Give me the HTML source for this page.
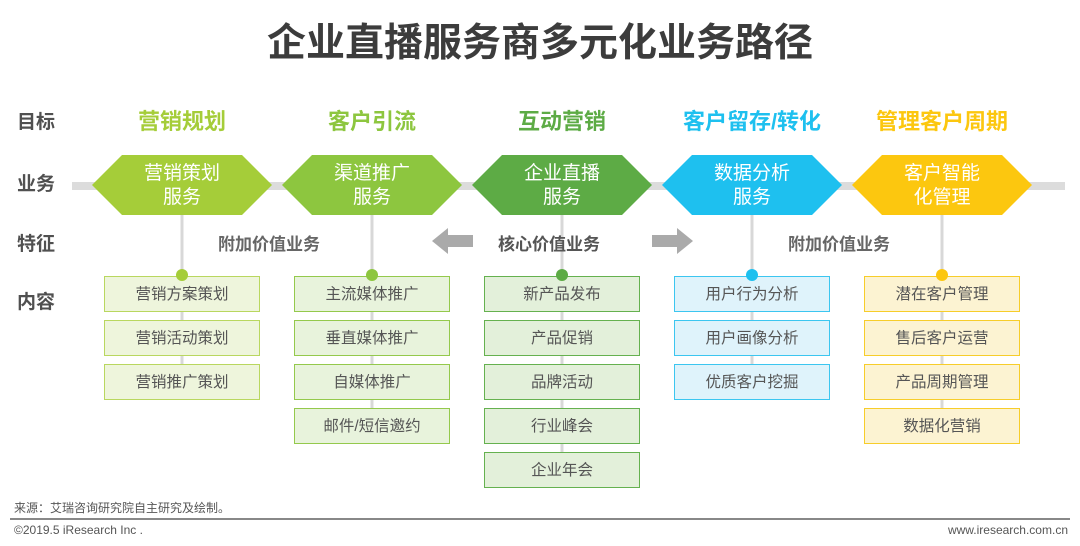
<!DOCTYPE html>
<html><head><meta charset="utf-8"><style>
body{margin:0;width:1080px;height:546px;background:#fff;position:relative;overflow:hidden;font-family:"Liberation Sans","Noto Sans CJK SC",sans-serif}
.a{position:absolute;white-space:nowrap}
.lbl{left:17px;font-size:19px;font-weight:bold;color:#505050}
.goal{font-size:22px;font-weight:bold;width:190px;text-align:center;top:104px}
.hx{font-size:19px;color:#fff;width:180px;text-align:center;line-height:24px;top:162px}
.bx{position:absolute;width:154px;height:34px;line-height:35px;text-align:center;font-size:15.5px;color:#555;border:1.5px solid}
.feat{font-size:17px;font-weight:bold;color:#666;top:230px}
</style></head><body>
<div class="a" style="left:0;width:1080px;text-align:center;top:12px;font-size:39px;font-weight:bold;color:#3c3c3c">企业直播服务商多元化业务路径</div>
<div class="a lbl" style="top:107px">目标</div>
<div class="a lbl" style="top:169px">业务</div>
<div class="a lbl" style="top:229px">特征</div>
<div class="a lbl" style="top:287px">内容</div>
<div class="a goal" style="left:87px;color:#a5cd39">营销规划</div>
<div class="a goal" style="left:277px;color:#8dc63f">客户引流</div>
<div class="a goal" style="left:467px;color:#5dab45">互动营销</div>
<div class="a goal" style="left:657px;color:#1ec0ef">客户留存/转化</div>
<div class="a goal" style="left:847px;color:#fcc70f">管理客户周期</div>
<svg class="a" style="left:0;top:0" width="1080" height="546">
<rect x="72" y="182" width="993" height="8" fill="#dcdcdc"/>
<g stroke="#d8d8d8" stroke-width="3">
<line x1="182" y1="215" x2="182" y2="400"/><line x1="372" y1="215" x2="372" y2="444"/>
<line x1="562" y1="215" x2="562" y2="488"/><line x1="752" y1="215" x2="752" y2="400"/>
<line x1="942" y1="215" x2="942" y2="444"/></g>
<polygon points="92,185 122,155 242,155 272,185 242,215 122,215" fill="#a5cd39"/>
<polygon points="282,185 312,155 432,155 462,185 432,215 312,215" fill="#8dc63f"/>
<polygon points="472,185 502,155 622,155 652,185 622,215 502,215" fill="#5dab45"/>
<polygon points="662,185 692,155 812,155 842,185 812,215 692,215" fill="#1ec0ef"/>
<polygon points="852,185 882,155 1002,155 1032,185 1002,215 882,215" fill="#fcc70f"/>
<polygon points="432,241 448,228 448,235 473,235 473,247 448,247 448,254" fill="#aaa"/>
<polygon points="693,241 677,228 677,235 652,235 652,247 677,247 677,254" fill="#aaa"/>
<line x1="10" y1="519" x2="1070" y2="519" stroke="#888" stroke-width="2"/>
</svg>
<div class="a hx" style="left:92px">营销策划<br>服务</div>
<div class="a hx" style="left:282px">渠道推广<br>服务</div>
<div class="a hx" style="left:472px">企业直播<br>服务</div>
<div class="a hx" style="left:662px">数据分析<br>服务</div>
<div class="a hx" style="left:852px">客户智能<br>化管理</div>
<div class="a feat" style="left:218px">附加价值业务</div>
<div class="a feat" style="left:498px;color:#555">核心价值业务</div>
<div class="a feat" style="left:788px">附加价值业务</div>

<div class="bx" style="left:104px;top:276px;background:#eef5dc;border-color:#b9d75f">营销方案策划</div>
<div class="bx" style="left:104px;top:320px;background:#eef5dc;border-color:#b9d75f">营销活动策划</div>
<div class="bx" style="left:104px;top:364px;background:#eef5dc;border-color:#b9d75f">营销推广策划</div>

<div class="bx" style="left:294px;top:276px;background:#e8f3dc;border-color:#94c94c">主流媒体推广</div>
<div class="bx" style="left:294px;top:320px;background:#e8f3dc;border-color:#94c94c">垂直媒体推广</div>
<div class="bx" style="left:294px;top:364px;background:#e8f3dc;border-color:#94c94c">自媒体推广</div>
<div class="bx" style="left:294px;top:408px;background:#e8f3dc;border-color:#94c94c">邮件/短信邀约</div>

<div class="bx" style="left:484px;top:276px;background:#e3f0da;border-color:#65b14f">新产品发布</div>
<div class="bx" style="left:484px;top:320px;background:#e3f0da;border-color:#65b14f">产品促销</div>
<div class="bx" style="left:484px;top:364px;background:#e3f0da;border-color:#65b14f">品牌活动</div>
<div class="bx" style="left:484px;top:408px;background:#e3f0da;border-color:#65b14f">行业峰会</div>
<div class="bx" style="left:484px;top:452px;background:#e3f0da;border-color:#65b14f">企业年会</div>

<div class="bx" style="left:674px;top:276px;background:#dff3fb;border-color:#3cc6f0">用户行为分析</div>
<div class="bx" style="left:674px;top:320px;background:#dff3fb;border-color:#3cc6f0">用户画像分析</div>
<div class="bx" style="left:674px;top:364px;background:#dff3fb;border-color:#3cc6f0">优质客户挖掘</div>

<div class="bx" style="left:864px;top:276px;background:#fcf3d2;border-color:#f7cd2a">潜在客户管理</div>
<div class="bx" style="left:864px;top:320px;background:#fcf3d2;border-color:#f7cd2a">售后客户运营</div>
<div class="bx" style="left:864px;top:364px;background:#fcf3d2;border-color:#f7cd2a">产品周期管理</div>
<div class="bx" style="left:864px;top:408px;background:#fcf3d2;border-color:#f7cd2a">数据化营销</div>

<svg class="a" style="left:0;top:0" width="1080" height="300">
<circle cx="182" cy="275" r="6" fill="#a5cd39"/><circle cx="372" cy="275" r="6" fill="#8dc63f"/>
<circle cx="562" cy="275" r="6" fill="#5dab45"/><circle cx="752" cy="275" r="6" fill="#1ec0ef"/>
<circle cx="942" cy="275" r="6" fill="#fcc70f"/>
</svg>
<div class="a" style="left:14px;top:499px;font-size:12px;color:#555">来源：艾瑞咨询研究院自主研究及绘制。</div>
<div class="a" style="left:14px;top:523px;font-size:12px;color:#555">©2019.5 iResearch Inc .</div>
<div class="a" style="right:12px;top:523px;font-size:12px;color:#555">www.iresearch.com.cn</div>
</body></html>
